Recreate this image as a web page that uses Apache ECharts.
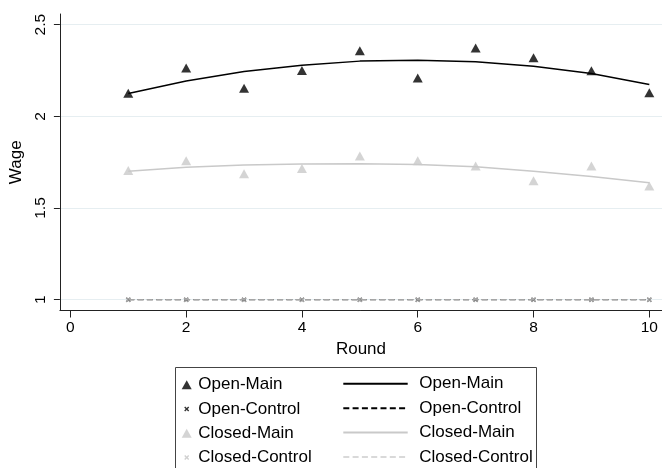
<!DOCTYPE html>
<html>
<head>
<meta charset="utf-8">
<script src="https://cdn.jsdelivr.net/npm/echarts@6/dist/echarts.min.js"></script>
<style>
html,body{margin:0;padding:0;background:#fff;}
#chart{width:662px;height:468px;}
</style>
</head>
<body>
<div id="chart"></div>
<script>
// ---- data ----
var rounds = [1, 2, 3, 4, 5, 6, 7, 8, 9, 10];
var openMain = [2.126, 2.263, 2.153, 2.250, 2.358, 2.209, 2.373, 2.319, 2.248, 2.128];
var openControl = [1, 1, 1, 1, 1, 1, 1, 1, 1, 1];
var closedMain = [1.704, 1.758, 1.687, 1.716, 1.784, 1.757, 1.729, 1.648, 1.729, 1.620];
var closedControl = [1, 1, 1, 1, 1, 1, 1, 1, 1, 1];
var openMainFit = [2.124, 2.193, 2.244, 2.279, 2.301, 2.306, 2.298, 2.273, 2.233, 2.173];
var openControlFit = [1, 1, 1, 1, 1, 1, 1, 1, 1, 1];
var closedMainFit = [1.700, 1.722, 1.734, 1.740, 1.741, 1.737, 1.725, 1.700, 1.672, 1.638];
var closedControlFit = [1, 1, 1, 1, 1, 1, 1, 1, 1, 1];
var xTicks = [0, 2, 4, 6, 8, 10];
var yTicks = [1, 1.5, 2, 2.5];
var groupNames = ['Open-Main', 'Open-Control', 'Closed-Main', 'Closed-Control'];
var xTitle = 'Round';
var yTitle = 'Wage';

function pairs(vals) { return rounds.map(function (r, i) { return [r, vals[i]]; }); }

var FONT = '"Liberation Sans", Arial, Helvetica, sans-serif';
var XSYM = 'path://M0,2L2,0L5,3L8,0L10,2L7,5L10,8L8,10L5,7L2,10L0,8L3,5Z';
var BLACK = '#000000';
var LIGHT = '#c9c9c9';
var FIT = ' (fit)';

var chart = echarts.init(document.getElementById('chart'), null, {renderer: 'canvas'});

var series = [
  {name: groupNames[0], type: 'scatter', data: pairs(openMain), symbol: 'triangle', symbolSize: [10, 9], itemStyle: {color: BLACK}},
  {name: groupNames[1], type: 'scatter', data: pairs(openControl), symbol: XSYM, symbolSize: 5, itemStyle: {color: BLACK}},
  {name: groupNames[2], type: 'scatter', data: pairs(closedMain), symbol: 'triangle', symbolSize: [10, 9], itemStyle: {color: LIGHT}},
  {name: groupNames[3], type: 'scatter', data: pairs(closedControl), symbol: XSYM, symbolSize: 5, itemStyle: {color: '#c4c4c4'}},
  {name: groupNames[0] + FIT, type: 'line', data: pairs(openMainFit), symbol: 'none', lineStyle: {color: BLACK, width: 1.5}, itemStyle: {color: BLACK}},
  {name: groupNames[1] + FIT, type: 'line', data: pairs(openControlFit), symbol: 'none', lineStyle: {color: BLACK, width: 1.2, type: [6, 3.3]}, itemStyle: {color: BLACK}},
  {name: groupNames[2] + FIT, type: 'line', data: pairs(closedMainFit), symbol: 'none', lineStyle: {color: LIGHT, width: 1.5}, itemStyle: {color: LIGHT}},
  {name: groupNames[3] + FIT, type: 'line', data: pairs(closedControlFit), symbol: 'none', lineStyle: {color: '#cfcfcf', width: 1.2, type: [6, 3.3], opacity: 0.8}, itemStyle: {color: '#cfcfcf'}}
];
series.forEach(function (s) { s.animation = false; s.silent = true; s.emphasis = {disabled: true}; });

var rowCenters = [383.3, 407.5, 431.7, 456];
var legends = [];
groupNames.forEach(function (n, i) {
  var tri = (i % 2 === 0);
  var w = tri ? 10 : 5, h = tri ? 9 : 5;
  legends.push({
    show: true, selectedMode: false, orient: 'vertical', padding: 0,
    left: 186.7 - w / 2, top: rowCenters[i] - 7,
    itemWidth: w, itemHeight: h,
    data: [n],
    textStyle: {fontSize: 17, fontFamily: FONT, color: '#000', padding: [0, 0, 0, 198.3 - (186.7 + w / 2) - 5]}
  });
});
legends.push({
  show: true, selectedMode: false, orient: 'vertical', padding: 0,
  left: 342.3, top: rowCenters[0] - 8, itemWidth: 64.4, itemHeight: 16, itemGap: 7.4,
  data: groupNames.map(function (n) { return n + FIT; }),
  formatter: function (name) { return name.replace(FIT, ''); },
  itemStyle: {opacity: 0},
  textStyle: {fontSize: 17, fontFamily: FONT, color: '#000', padding: [0, 0, 0, 6.6]}
});

var option = {
  backgroundColor: '#ffffff',
  animation: false,
  grid: {left: 59.5, right: 0, top: 14, bottom: 157.5, containLabel: false},
  xAxis: {
    type: 'value', min: -0.181, max: 10.219,
    name: xTitle, nameLocation: 'middle', nameGap: 26.5,
    nameTextStyle: {fontSize: 17, fontFamily: FONT, color: '#000'},
    axisLine: {show: true, onZero: false, lineStyle: {color: '#222', width: 1}},
    axisTick: {show: true, length: 7, customValues: xTicks, lineStyle: {color: '#222', width: 1}},
    axisLabel: {show: true, customValues: xTicks, margin: 9, fontSize: 15.5, fontFamily: FONT, color: '#000'},
    splitLine: {show: false}
  },
  yAxis: {
    type: 'value', min: 0.941, max: 2.558,
    name: yTitle, nameLocation: 'middle', nameGap: 27, nameRotate: 90,
    nameTextStyle: {fontSize: 17, fontFamily: FONT, color: '#000'},
    axisLine: {show: true, onZero: false, lineStyle: {color: '#222', width: 1}},
    axisTick: {show: true, length: 6, customValues: yTicks, lineStyle: {color: '#222', width: 1}},
    axisLabel: {show: true, customValues: yTicks, rotate: 90, margin: 11, fontSize: 15.5, fontFamily: FONT, color: '#000'},
    splitLine: {show: true, lineStyle: {color: '#e6eef1', width: 1}}
  },
  legend: legends,
  graphic: [{
    type: 'rect', silent: true, z: -1,
    shape: {x: 175.5, y: 367.5, width: 361, height: 130},
    style: {fill: 'none', stroke: '#444', lineWidth: 1}
  }],
  series: series
};
chart.setOption(option);
</script>
</body>
</html>
